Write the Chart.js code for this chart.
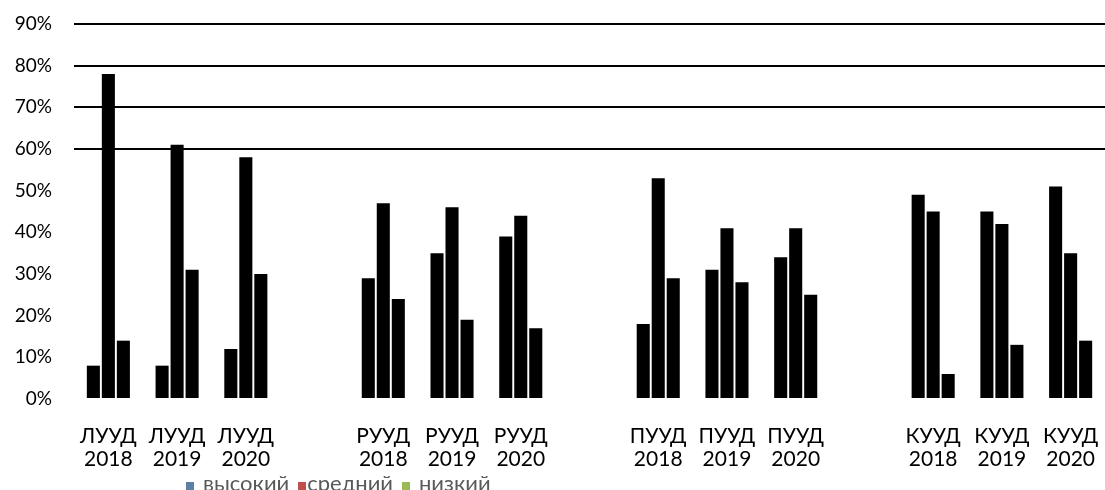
<!DOCTYPE html>
<html>
<head>
<meta charset="utf-8">
<script src="https://cdn.jsdelivr.net/npm/chart.js@4"></script>
<style>
  html, body { margin: 0; padding: 0; background: #fff; overflow: hidden; }
  #wrap { position: relative; width: 1105px; height: 490px; overflow: hidden; }
  #legend { position: absolute; left: 186px; top: 473px; font-family: Lato, sans-serif;
            font-size: 22px; color: #595959; white-space: nowrap; line-height: 20px; }
  #legend span.box { display: inline-block; width: 8px; height: 9px; margin-right: 9px; }
  #legend span.item { margin-right: 9px; }
  #legend span.item:nth-child(2) span.box { margin-right: 1px; }
</style>
</head>
<body>
<div id="wrap">
  <canvas id="chart" width="1105" height="490"></canvas>
  <div id="legend"></div>
</div>
<script>
// ---- data ----
const groups = ['ЛУУД', 'РУУД', 'ПУУД', 'КУУД'];
const years = ['2018', '2019', '2020'];
const seriesNames = ['высокий', 'средний', 'низкий'];
const legendColors = ['#5b80a4', '#c0504d', '#9bbb59'];

const high   = [8, 8, 12,   29, 35, 39,   18, 31, 34,   49, 45, 51];
const medium = [78, 61, 58, 47, 46, 44,   53, 41, 41,   45, 42, 35];
const low    = [14, 31, 30, 24, 19, 17,   29, 28, 25,   6, 13, 14];

const yTicks = [0, 10, 20, 30, 40, 50, 60, 70, 80, 90];

// build labels with an empty slot between groups
const labels = [];
function withGaps(values) {
    const out = [];
    groups.forEach((g, gi) => {
        if (gi > 0) out.push(null);
        years.forEach((y, yi) => out.push(values[gi * years.length + yi]));
    });
    return out;
}
groups.forEach((g, gi) => {
    if (gi > 0) labels.push(['', '']);
    years.forEach(y => labels.push([g, y]));
});

const seriesData = [high, medium, low];

// ---- chart ----
new Chart(document.getElementById('chart'), {
    type: 'bar',
    data: {
        labels: labels,
        datasets: seriesNames.map((name, i) => ({
            label: name,
            data: withGaps(seriesData[i]),
            backgroundColor: '#000',
            categoryPercentage: 0.655,
            barPercentage: 0.87
        }))
    },
    options: {
        responsive: false,
        animation: false,
        layout: { padding: { top: 24, right: 0, bottom: 0, left: 0 } },
        plugins: {
            legend: { display: false },
            tooltip: { enabled: false }
        },
        scales: {
            x: {
                grid: {
                    color: 'rgba(0,0,0,0)',
                    drawOnChartArea: false,
                    drawTicks: true,
                    tickLength: 26
                },
                border: { display: false },
                ticks: {
                    color: '#000',
                    font: { family: 'Lato', size: 21, lineHeight: 1.1 },
                    padding: 0,
                    maxRotation: 0,
                    autoSkip: false
                },
                afterFit: function(scale) { scale.height = 91; }
            },
            y: {
                min: 0,
                max: 90,
                afterBuildTicks: function(scale) {
                    scale.ticks = yTicks.map(v => ({ value: v }));
                },
                grid: {
                    color: ctx => (ctx.tick && ctx.tick.value >= 60) ? '#000' : 'rgba(0,0,0,0)',
                    lineWidth: 2,
                    drawTicks: false
                },
                border: { display: false },
                ticks: {
                    color: '#000',
                    font: { family: 'Lato', size: 19 },
                    padding: 22,
                    callback: v => v + '%'
                },
                afterFit: function(scale) {
                    scale.width = 74;
                    // tick padding would otherwise push the plot area down
                    scale.paddingTop = 0;
                }
            }
        }
    }
});

// legend below the chart
const legend = document.getElementById('legend');
seriesNames.forEach((name, i) => {
    const item = document.createElement('span');
    item.className = 'item';
    item.innerHTML = '<span class="box" style="background:' + legendColors[i] + '"></span>' + name;
    legend.appendChild(item);
});
</script>
</body>
</html>
